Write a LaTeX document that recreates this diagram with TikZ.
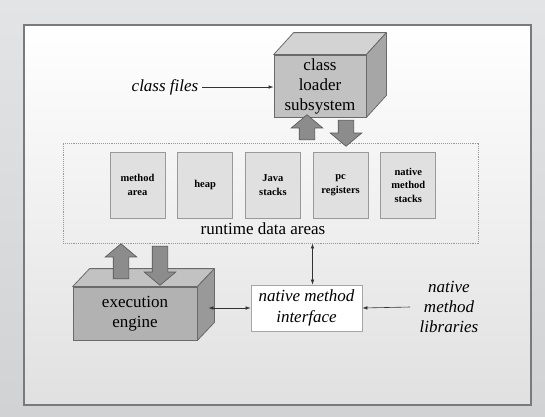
\documentclass[tikz,border=0pt]{standalone}
\usepackage{fontspec}
\setmainfont{Liberation Serif}
\usetikzlibrary{arrows.meta, positioning, shapes.arrows}
\usepackage{xcolor}

\definecolor{slidebg}{HTML}{D0D2D4}
\definecolor{frameline}{HTML}{7A7A7A}
\definecolor{cubefront}{HTML}{C2C2C2}
\definecolor{cubetop}{HTML}{D3D3D3}
\definecolor{cubeside}{HTML}{A6A6A6}
\definecolor{cubeline}{HTML}{6A6A6A}
\definecolor{fatfill}{HTML}{8C8C8C}
\definecolor{areafill}{HTML}{E0E0E0}

\begin{document}
\begin{tikzpicture}[
  x=1pt, y=-1pt,
  cube/.style={draw=cubeline, fill=cubefront, line width=0.8pt, inner sep=0pt,
    align=center, font=\fontsize{17}{20}\selectfont},
  face/.style={draw=cubeline, line width=0.8pt, line join=round},
  fat/.style={single arrow, draw=cubeline!80!black, fill=fatfill, line width=0.6pt,
    inner xsep=0pt, inner ysep=7.5pt, single arrow head extend=8pt,
    single arrow tip angle=100, rotate=#1},
  area/.style={draw=gray!80, fill=areafill, line width=0.7pt, minimum width=55pt,
    minimum height=66pt, inner sep=1pt, align=center,
    font=\fontsize{10.5}{13.5}\selectfont\bfseries},
  label/.style={align=center, font=\fontsize{17}{20}\selectfont},
  arr/.style={-{Latex[length=5pt, width=3.5pt]}, line width=0.6pt, draw=black!80},
  darr/.style={{Latex[length=5pt, width=3.5pt]}-{Latex[length=5pt, width=3.5pt]},
    line width=0.6pt, draw=black!80}
]
\useasboundingbox (0,0) rectangle (545,416);

% slide background and frame
\shade[top color=slidebg!60!white, bottom color=slidebg] (0,0) rectangle (545,416);
\shade[top color=white, bottom color=black!12, draw=frameline, line width=1.2pt]
  (24,25) rectangle (531,405);

% class loader
\node[cube, minimum width=92pt, minimum height=62pt] (cl) at (320,86)
  {class\\loader\\subsystem};
\draw[face, fill=cubetop] (cl.north west) -- ([shift={(20,-22)}]cl.north west)
  -- ([shift={(20,-22)}]cl.north east) -- (cl.north east) -- cycle;
\draw[face, fill=cubeside] (cl.north east) -- ([shift={(20,-22)}]cl.north east)
  -- ([shift={(20,-22)}]cl.south east) -- (cl.south east) -- cycle;

\node[label, font=\fontsize{17}{20}\selectfont\itshape] (cf) at (165,87) {class files};
\draw[arr] (cf.east) -- (cl.west |- cf.east);

% runtime data areas
\node[draw=gray!80, densely dotted, line width=0.9pt, minimum width=415pt,
  minimum height=100pt] (rda) at (270.5,193) {};
\node[area] (ma) at (137.5,185) {method\\area};
\node[area, right=12pt of ma] (heap) {heap};
\node[area, right=12pt of heap] (js) {Java\\stacks};
\node[area, right=12pt of js] (pc) {pc\\registers};
\node[area, right=12pt of pc] (nms) {native\\method\\stacks};
\node[label] (rdalabel) at (263,229) {runtime data areas};

\node[fat=90, minimum height=25pt] (clup) at (307,130.5) {};
\node[fat=-90, minimum height=26pt] (cldown) at (346,130) {};

% execution engine
\node[cube, fill=cubefront!92!black, minimum width=124pt, minimum height=53pt]
  (ee) at (135,313.5) {execution\\engine};
\draw[face, fill=cubetop!92!black] (ee.north west) -- ([shift={(17,-18)}]ee.north west)
  -- ([shift={(17,-18)}]ee.north east) -- (ee.north east) -- cycle;
\draw[face, fill=cubeside!92!black] (ee.north east) -- ([shift={(17,-18)}]ee.north east)
  -- ([shift={(17,-18)}]ee.south east) -- (ee.south east) -- cycle;

\node[fat=90, minimum height=35pt] (eeup) at (121,264.5) {};
\node[fat=-90, minimum height=39pt] (eedown) at (160,262.5) {};

% native method interface
\node[draw=gray!70, fill=white, line width=0.7pt, minimum width=111pt,
  minimum height=46pt, align=center, font=\fontsize{17}{21}\selectfont\itshape]
  (nmi) at (306.5,308) {native method\\interface};
\node[label, font=\fontsize{17}{20}\selectfont\itshape] (nml) at (449,307)
  {native\\method\\libraries};

\draw[darr] ([xshift=6pt]nmi.north) -- ([xshift=6pt]nmi.north |- rda.south);
\draw[darr] ([xshift=11pt]nmi.west -| ee.east) -- (nmi.west);
\draw[arr] ([xshift=-6pt]nml.west) -- (nmi.east);
\end{tikzpicture}
\end{document}
